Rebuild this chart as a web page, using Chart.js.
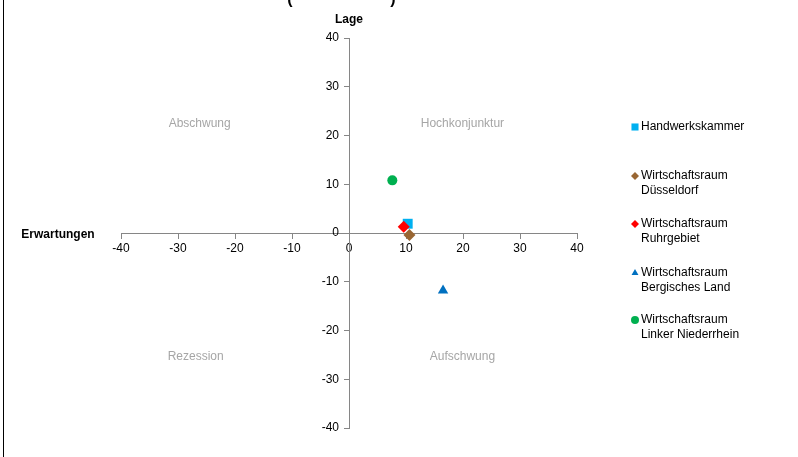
<!DOCTYPE html>
<html>
<head>
<meta charset="utf-8">
<script src="https://cdn.jsdelivr.net/npm/chart.js@4.4.1/dist/chart.umd.min.js"></script>
<style>
    html, body { margin: 0; padding: 0; background: #fff; }
    #wrap { position: relative; width: 798px; height: 457px; }
    #frame { position: absolute; left: 3px; top: 0; width: 0; height: 457px; border-left: 1px solid #000; }
</style>
</head>
<body>
<div id="wrap">
    <canvas id="chart" width="798" height="457"></canvas>
    <div id="frame"></div>
</div>
<script>
    "use strict";

    // Series (Erwartungen = x, Lage = y)
    const seriesNames = [
        ['Handwerkskammer'],
        ['Wirtschaftsraum', 'Düsseldorf'],
        ['Wirtschaftsraum', 'Ruhrgebiet'],
        ['Wirtschaftsraum', 'Bergisches Land'],
        ['Wirtschaftsraum', 'Linker Niederrhein'],
    ];
    const erwartungen = [10.3, 10.6, 9.6, 16.5, 7.6];
    const lage = [1.9, -0.4, 1.3, -11.8, 10.8];
    const seriesColors = ['#00B0F0', '#996633', '#FF0000', '#0070C0', '#00B050'];
    const seriesShapes = ['rect', 'rectRot', 'rectRot', 'triangle', 'circle'];
    const seriesRadius = [7, 6, 6, 6, 5];

    const axisTicks = [-40, -30, -20, -10, 0, 10, 20, 30, 40];

    // Quadrant captions, placed in data units
    const quadrantNames = ['Abschwung', 'Hochkonjunktur', 'Rezession', 'Aufschwung'];
    const quadrantX = [-26.2, 19.9, -26.9, 19.9];
    const quadrantY = [22.5, 22.5, -25.3, -25.3];

    const FONT = "'Liberation Sans', Arial, sans-serif";
    const AXIS_GREY = '#868686';
    const LEGEND_ROWS = [127, 176, 224, 273, 320];

    const datasets = seriesNames.map(function (name, i) {
        return {
            label: name.join(' '),
            data: [{ x: erwartungen[i], y: lage[i] }],
            pointStyle: seriesShapes[i],
            pointRadius: seriesRadius[i],
            pointHoverRadius: seriesRadius[i],
            backgroundColor: seriesColors[i],
            borderColor: seriesColors[i],
            borderWidth: 0,
            order: seriesNames.length - i,
        };
    });

    const extras = {
        id: 'extras',
        afterDraw: function (chart) {
            const ctx = chart.ctx;
            const xs = chart.scales.x;
            const ys = chart.scales.y;
            ctx.save();
            ctx.textAlign = 'center';
            ctx.textBaseline = 'middle';

            // quadrant captions
            ctx.fillStyle = '#A6A6A6';
            ctx.font = '12px ' + FONT;
            quadrantNames.forEach(function (q, i) {
                ctx.fillText(q, xs.getPixelForValue(quadrantX[i]), ys.getPixelForValue(quadrantY[i]));
            });

            // axis titles
            ctx.fillStyle = '#000';
            ctx.font = 'bold 12px ' + FONT;
            ctx.fillText('Lage', xs.getPixelForValue(0), 20);
            ctx.fillText('Erwartungen', 58, ys.getPixelForValue(0) + 2);

            // clipped title brackets at top edge
            ctx.font = 'bold 16px ' + FONT;
            ctx.textBaseline = 'alphabetic';
            ctx.fillText('(', 290, 4);
            ctx.fillText(')', 393, 4);

            // legend
            seriesNames.forEach(function (lines, i) {
                ctx.fillStyle = seriesColors[i];
                ctx.strokeStyle = seriesColors[i];
                Chart.helpers.drawPoint(ctx, {
                    pointStyle: seriesShapes[i],
                    radius: seriesShapes[i] === 'rect' ? 5 : 4,
                    borderWidth: 0,
                    rotation: 0,
                }, 635, LEGEND_ROWS[i]);

                ctx.fillStyle = '#000';
                ctx.font = '12px ' + FONT;
                ctx.textAlign = 'left';
                ctx.textBaseline = 'middle';
                lines.forEach(function (t, k) {
                    ctx.fillText(t, 641, LEGEND_ROWS[i] + k * 15);
                });
            });
            ctx.restore();
        },
    };

    function axis(other, vertical) {
        const pos = {};
        pos[other] = 0;
        return {
            type: 'linear',
            min: -40,
            max: 40,
            position: pos,
            afterBuildTicks: function (scale) {
                scale.ticks = axisTicks.map(function (v) { return { value: v }; });
            },
            ticks: {
                color: '#000',
                font: { family: FONT, size: 12 },
                padding: 3,
                // centred y axis draws labels flush to the line, so pad them
                callback: function (v) { return vertical ? v + '   ' : String(v); },
            },
            grid: {
                drawOnChartArea: false,
                drawTicks: true,
                tickLength: 5,
                color: AXIS_GREY,
            },
            border: { color: AXIS_GREY, width: 1 },
        };
    }

    new Chart(document.getElementById('chart'), {
        type: 'scatter',
        data: { datasets: datasets },
        options: {
            responsive: false,
            animation: false,
            layout: { padding: { left: 121, right: 221, top: 38, bottom: 29 } },
            plugins: {
                legend: { display: false },
                tooltip: { enabled: false },
            },
            scales: {
                x: axis('y', false),
                y: axis('x', true),
            },
        },
        plugins: [extras],
    });
</script>
</body>
</html>
